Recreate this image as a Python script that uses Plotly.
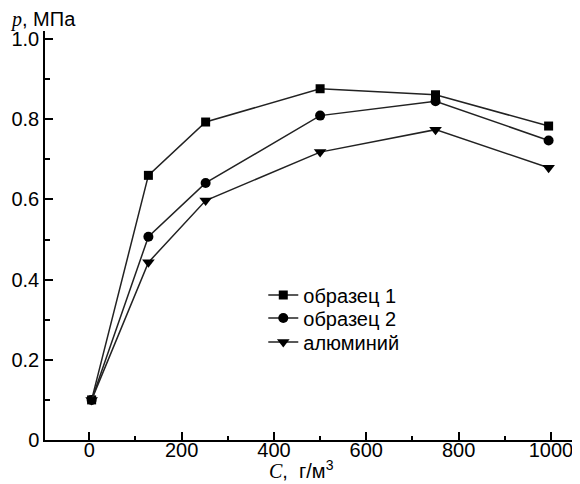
import plotly.graph_objects as go

conc = [5, 128, 252, 500, 750, 995]
sample1 = [0.10, 0.66, 0.793, 0.876, 0.861, 0.783]
sample2 = [0.10, 0.507, 0.641, 0.809, 0.845, 0.747]
aluminium = [0.10, 0.443, 0.597, 0.718, 0.774, 0.679]
names = ["образец 1", "образец 2", "алюминий"]
x_ticks = [0, 200, 400, 600, 800, 1000]
y_ticks = [0, 0.2, 0.4, 0.6, 0.8, 1.0]
y_tick_text = ["0", "0.2", "0.4", "0.6", "0.8", "1.0"]

FONT = "Liberation Sans, Arial, sans-serif"
LC = "#222222"

fig = go.Figure()
legends = ["legend", "legend2", "legend3"]
for ys, nm, sym, sz, lg in [(sample1, names[0], "square", 9, legends[0]),
                            (sample2, names[1], "circle", 10, legends[1]),
                            (aluminium, names[2], "triangle-down", 11, legends[2])]:
    fig.add_trace(go.Scatter(x=conc, y=ys, name=nm, mode="lines+markers",
                             legend=lg,
                             line=dict(color=LC, width=1.5),
                             marker=dict(symbol=sym, size=sz, color="black")))

leg_common = dict(xanchor="left", yanchor="top", bgcolor="rgba(0,0,0,0)",
                  font=dict(size=20, family=FONT), x=0.408)

# page has an 8px body margin: shrink figure by 8 px and shift margins
fig.update_layout(
    width=572, height=476,
    margin=dict(l=37, r=0, t=23, b=44),
    plot_bgcolor="white", paper_bgcolor="white",
    font=dict(family=FONT, size=20, color="black"),
    showlegend=True,
    legend=dict(y=0.402, **leg_common),
    legend2=dict(y=0.346, **leg_common),
    legend3=dict(y=0.287, **leg_common),
    xaxis=dict(range=[-96, 1063], showline=True, linecolor="black", linewidth=1.5,
               ticks="inside", ticklen=8, tickwidth=1.5, tickcolor="black",
               tickvals=x_ticks, showgrid=False, zeroline=False,
               ticklabelstandoff=-9,
               minor=dict(dtick=100, tick0=0, ticks="inside", ticklen=4,
                          tickwidth=1.5, tickcolor="black", showgrid=False)),
    yaxis=dict(range=[0, 1.02], showline=True, linecolor="black", linewidth=1.5,
               ticks="inside", ticklen=8, tickwidth=1.5, tickcolor="black",
               tickvals=y_ticks, ticktext=y_tick_text, showgrid=False, zeroline=False,
               minor=dict(dtick=0.1, tick0=0, ticks="inside", ticklen=5,
                          tickwidth=1.5, tickcolor="black", showgrid=False)),
)

fig.add_annotation(xref="paper", yref="paper", x=-0.07, y=1.0, xanchor="left",
                   yanchor="bottom", showarrow=False, yshift=-2,
                   text='<span style="font-family:Liberation Serif, Times New Roman, serif"><i>p</i></span>, МПа',
                   font=dict(size=20))
fig.add_annotation(xref="paper", yref="paper", x=0.48, y=0, xanchor="center",
                   yanchor="bottom", showarrow=False, yshift=-44,
                   text='<span style="font-family:Liberation Serif, Times New Roman, serif"><i>C</i></span>,&nbsp; г/м<sup>3</sup>',
                   font=dict(size=20))

fig.write_html("out.html")
